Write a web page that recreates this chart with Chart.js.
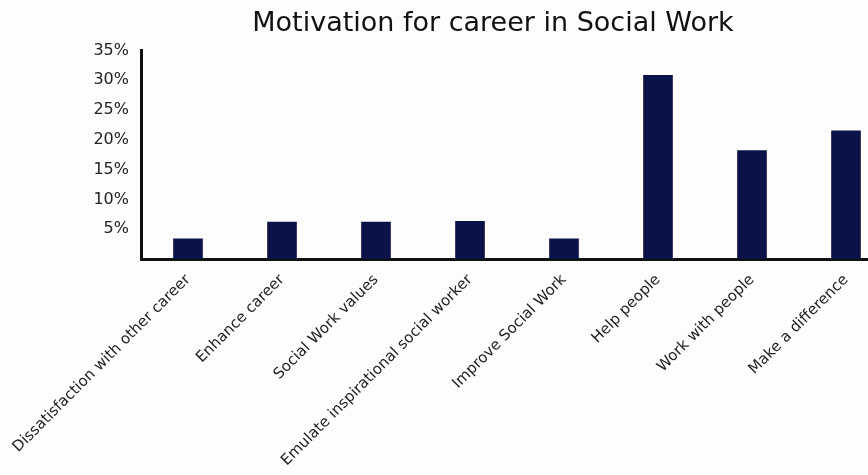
<!DOCTYPE html>
<html>
<head>
<meta charset="utf-8">
<script src="https://cdn.jsdelivr.net/npm/chart.js@4"></script>
<style>
  html, body { margin: 0; padding: 0; background: #fdfdfd; overflow: hidden; }
  canvas { display: block; }
</style>
</head>
<body>
<canvas id="barChart" width="896" height="475"></canvas>
<script>
const categories = ['Dissatisfaction with other career', 'Enhance career', 'Social Work values',
    'Emulate inspirational social worker', 'Improve Social Work', 'Help people',
    'Work with people', 'Make a difference'];
const percentages = [3.4, 6.2, 6.2, 6.3, 3.4, 30.8, 18.2, 21.5];
const yTickValues = [5, 10, 15, 20, 25, 30, 35];

const fontFamily = "'DejaVu Sans', Verdana, sans-serif";

const barChart = document.getElementById('barChart').getContext('2d');
const myChart = new Chart(barChart, {
    type: 'bar',
    data: {
        labels: categories,
        datasets: [{
            label: 'Motivation',
            data: percentages,
            backgroundColor: '#0b1248',
            borderWidth: 0,
            barThickness: 29
        }]
    },
    options: {
        responsive: false,
        animation: false,
        layout: { padding: { left: 93, right: 3, top: 0, bottom: 0 } },
        plugins: {
            legend: { display: false },
            tooltip: { enabled: false },
            title: {
                display: true,
                text: 'Motivation for career in Social Work',
                color: '#111',
                font: { family: fontFamily, size: 27, weight: 'normal' },
                padding: { top: 8, bottom: 10 }
            }
        },
        scales: {
            x: {
                grid: { display: false },
                border: { display: true, color: '#111', width: 3 },
                ticks: {
                    color: '#222',
                    font: { family: fontFamily, size: 15 },
                    minRotation: 45,
                    maxRotation: 45,
                    autoSkip: false,
                    padding: 4
                },
                afterFit: function (scale) { scale.height = 216; }
            },
            y: {
                min: 0,
                max: 35,
                grid: { display: false, drawTicks: false },
                border: { display: true, color: '#111', width: 3 },
                ticks: {
                    color: '#222',
                    font: { family: fontFamily, size: 16 },
                    padding: 12,
                    callback: function (value) { return value + '%'; }
                },
                afterBuildTicks: function (scale) {
                    scale.ticks = yTickValues.map(v => ({ value: v }));
                },
                afterFit: function (scale) { scale.width = 48; }
            }
        }
    }
});
</script>
</body>
</html>
